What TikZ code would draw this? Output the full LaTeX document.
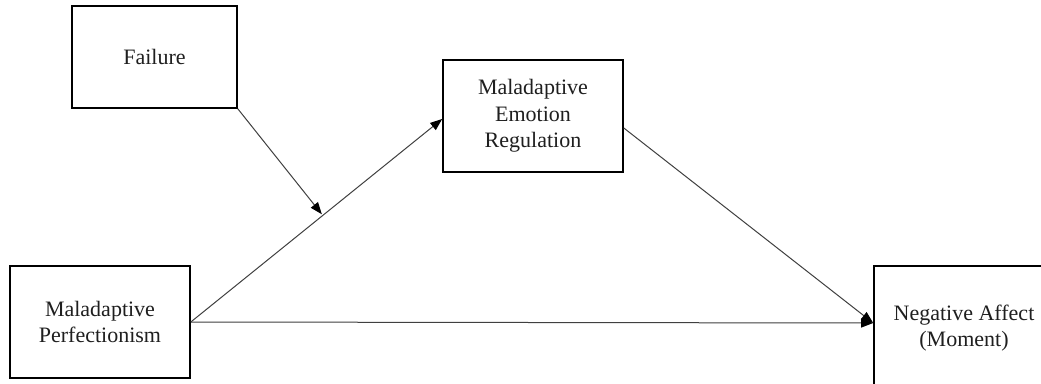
\documentclass[tikz,border=0pt]{standalone}
\usepackage{fontspec}
\setmainfont{Liberation Serif}
\usetikzlibrary{arrows.meta,calc}
\begin{document}
\begin{tikzpicture}[x=1pt,y=-1pt,
  box/.style={draw=black,line width=1.6pt,rectangle,align=center,inner sep=0pt,
    font=\fontsize{22}{26.5}\selectfont,text=black!88},
  conn/.style={draw=black!75,line width=1pt,-{Triangle[length=12pt,width=9pt,black]}}]
\useasboundingbox (0,0) rectangle (1041,383);
\clip (0,0) rectangle (1041,383);
\fill[white] (0,0) rectangle (1041,383);
\node[box,minimum width=165pt,minimum height=102pt] (F) at (154.5,57) {Failure};
\node[box,minimum width=180pt,minimum height=112pt] (ER) at (533,116) {Maladaptive\\Emotion\\Regulation};
\node[box,minimum width=180pt,minimum height=112pt] (MP) at (100,322) {Maladaptive\\Perfectionism};
\node[box,minimum width=180pt,minimum height=124pt] (NA) at (964,328) {Negative Affect\\(Moment)};
\coordinate (ERin) at ([yshift=-3pt]ER.west);
\coordinate (NAin) at ([yshift=5pt]NA.west);
\coordinate (ERout) at ([yshift=-12pt]ER.east);
\coordinate (Mod) at ($(MP.east)!0.525!(ERin)$);
\draw[conn] (MP.east) -- (ERin);
\draw[conn] (MP.east) -- (NAin);
\draw[conn] (ERout) -- (NAin);
\draw[conn,shorten >=1.5pt] (F.south east) -- (Mod);
\end{tikzpicture}
\end{document}
